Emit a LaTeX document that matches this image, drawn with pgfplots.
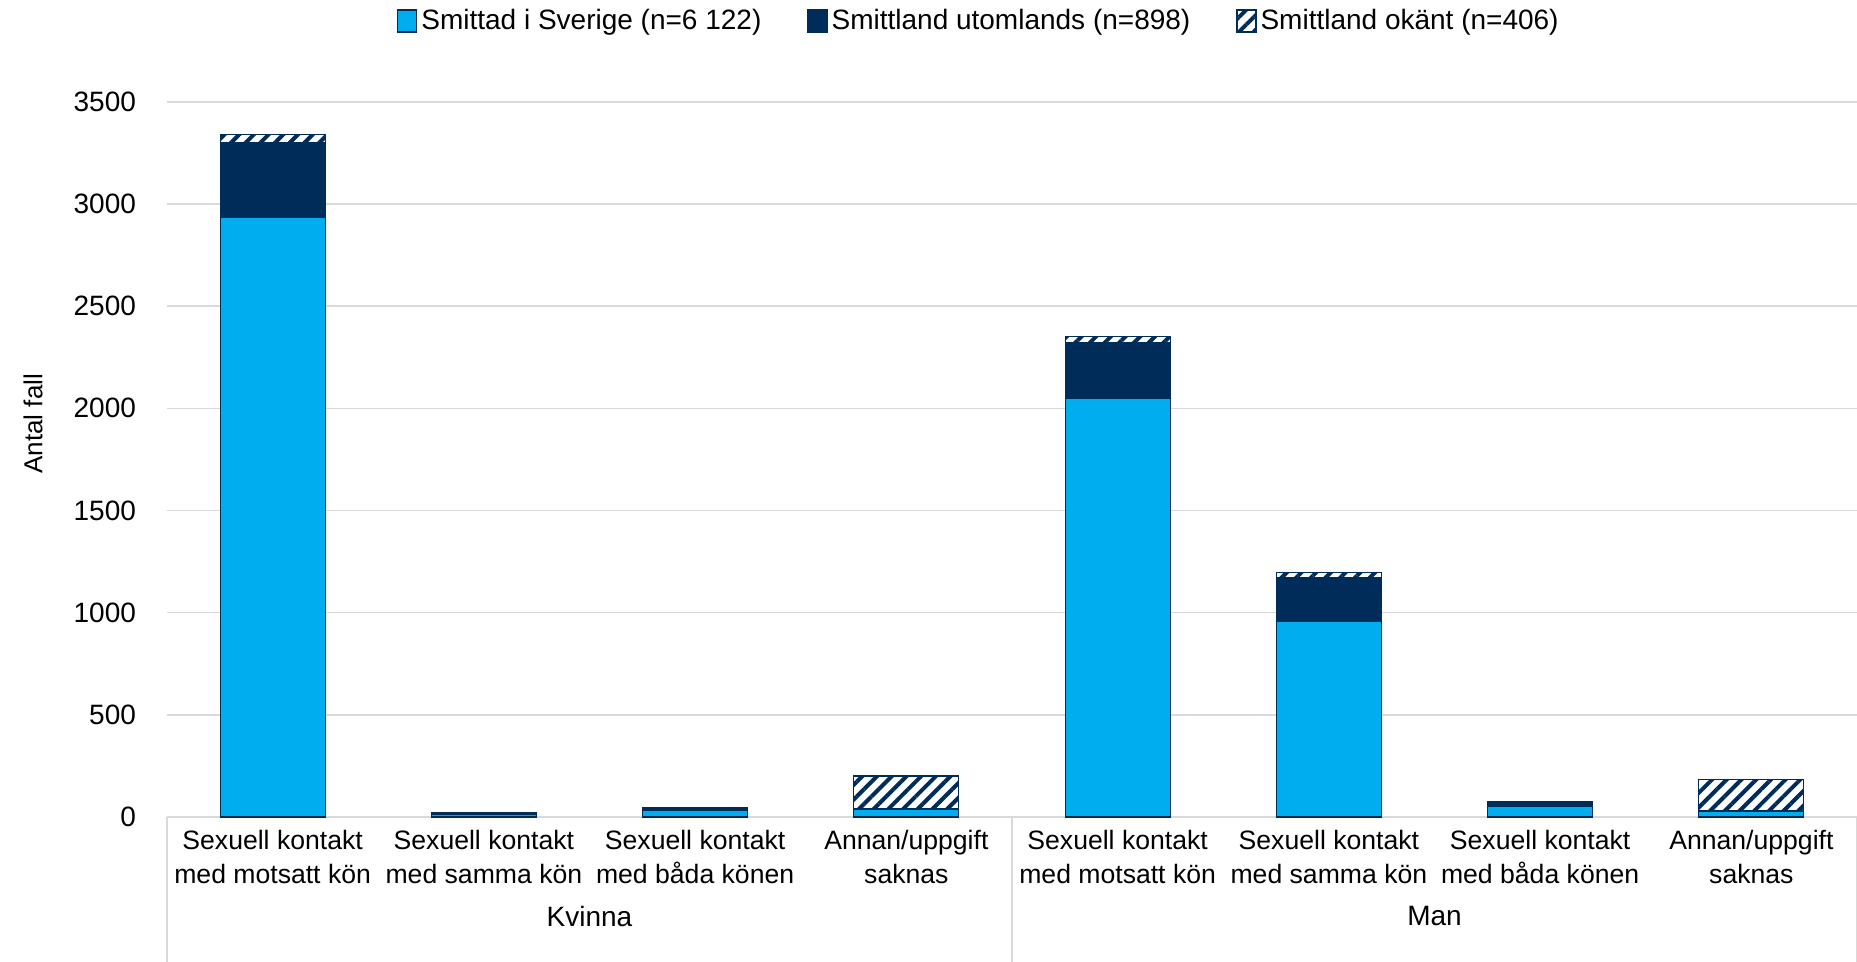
\documentclass[border=0pt]{standalone}
\usepackage{fontspec}
\setmainfont{Liberation Sans}
\usepackage{pgfplots}
\pgfplotsset{compat=1.18}
\usetikzlibrary{patterns.meta}
\definecolor{sblue}{HTML}{00AEEF}
\definecolor{snavy}{HTML}{002C5A}
\definecolor{sgrid}{HTML}{D9D9D9}

\begin{document}
\begin{tikzpicture}
\useasboundingbox (0,0) rectangle (928.5pt,481pt);
\begin{axis}[
    at={(83.5pt,72.5pt)}, anchor=south west,
    scale only axis, width=845pt, height=357.6pt,
    ybar stacked, bar width=52.5pt,
    xmin=-0.5, xmax=7.5, ymin=0, ymax=3500,
    ytick={0,500,...,3500},
    xtick={0,...,7},
    xticklabels={{Sexuell kontakt\\med motsatt kön},{Sexuell kontakt\\med samma kön},{Sexuell kontakt\\med båda könen},{Annan/uppgift\\saknas},{Sexuell kontakt\\med motsatt kön},{Sexuell kontakt\\med samma kön},{Sexuell kontakt\\med båda könen},{Annan/uppgift\\saknas}},
    xticklabel style={align=center, font=\fontsize{13.3}{17}\selectfont, yshift=-3pt},
    yticklabel style={font=\fontsize{14}{17}\selectfont, xshift=-12pt},
    /pgf/number format/assume math mode=true,
    /pgf/number format/1000 sep={},
    major tick length=0pt,
    axis line style={draw=none},
    ymajorgrids, grid style={sgrid, line width=0.75pt},
    ylabel={Antal fall},
    ylabel style={at={(axis description cs:-0.0793,0.55)}, anchor=center, font=\fontsize{13}{15}\selectfont},
    clip=false,
    legend style={at={(axis description cs:0.481,1.113)}, anchor=center, draw=none,
        font=\fontsize{14}{17}\selectfont,
        /tikz/every even column/.append style={column sep=21pt}},
    legend columns=3,
    legend image code/.code={\draw[#1] (0pt,-5.5pt) rectangle (9.5pt,5.5pt);},
]
\addplot[fill=sblue, draw=snavy, line width=0.6pt] coordinates {
    (0,2935) (1,14) (2,34) (3,36) (4,2050) (5,955) (6,50) (7,28)};
\addlegendentry{Smittad i Sverige (n=6 122)}
\addplot[fill=snavy, draw=snavy, line width=0.6pt] coordinates {
    (0,367) (1,8) (2,12) (3,3) (4,272) (5,215) (6,23) (7,5)};
\addlegendentry{Smittland utomlands (n=898)}
\addplot[fill=white, draw=snavy, line width=0.6pt,
    postaction={pattern={Lines[angle=45,distance=5.2pt,line width=2pt]}, pattern color=snavy}] coordinates {
    (0,38) (1,0) (2,0) (3,162) (4,28) (5,26) (6,0) (7,150)};
\addlegendentry{Smittland okänt (n=406)}
\draw[sgrid, line width=0.75pt] (axis cs:-0.5,0) -- ([yshift=-72.5pt]axis cs:-0.5,0);
\draw[sgrid, line width=0.75pt] (axis cs:3.5,0) -- ([yshift=-72.5pt]axis cs:3.5,0);
\draw[sgrid, line width=0.75pt] (axis cs:7.5,0) -- ([yshift=-72.5pt]axis cs:7.5,0);
\node[font=\fontsize{14}{17}\selectfont] at ([yshift=-49.5pt]axis cs:1.5,0) {Kvinna};
\node[font=\fontsize{14}{17}\selectfont] at ([yshift=-49.5pt]axis cs:5.5,0) {Man};
\end{axis}
\end{tikzpicture}
\end{document}
